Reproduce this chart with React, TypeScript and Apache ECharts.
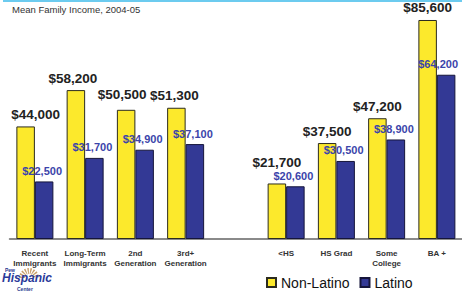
import React, { useEffect, useRef } from "react";
import * as echarts from "echarts";

const categories = [
  "Recent\nImmigrants",
  "Long-Term\nImmigrants",
  "2nd\nGeneration",
  "3rd+\nGeneration",
  "",
  "<HS",
  "HS Grad",
  "Some\nCollege",
  "BA +",
];
const nonLatino = [44000, 58200, 50500, 51300, null, 21700, 37500, 47200, 85600];
const latino = [22500, 31700, 34900, 37100, null, 20600, 30500, 38900, 64200];
const nonLatinoLabelShift = [10, -3, -4, -2, 0, 0, 0, 0, 0];
const nonLatinoLabelRaise = [0, 0, -3, 0, 0, -9, 0, 0, 0];
const latinoLabelShift = [-2, -2, -2, -2, 0, -2, -2, -2, -8];

const fmt = (v: number) => "$" + v.toLocaleString("en-US");

export default function App() {
  const ref = useRef<HTMLDivElement>(null);
  useEffect(() => {
    if (!ref.current) return;
    const chart = echarts.init(ref.current, null, { renderer: "svg" });
    const font = "Liberation Sans, Arial, sans-serif";
    chart.setOption({
      animation: false,
      backgroundColor: "#ffffff",
      textStyle: { fontFamily: font },
      title: {
        text: "Mean Family Income, 2004-05",
        left: 12,
        top: 4,
        padding: 0,
        textStyle: { fontSize: 9.5, fontWeight: "normal", color: "#333333", fontFamily: font },
      },
      legend: {
        left: 266,
        top: 275.5,
        itemWidth: 9,
        itemHeight: 9,
        itemGap: 10,
        icon: "rect",
        padding: 0,
        textStyle: { fontSize: 14, color: "#111111", fontFamily: font },
        data: ["Non-Latino", "Latino"],
      },
      grid: { left: 9.75, right: -2.25, top: 8.74, bottom: 55, containLabel: false },
      xAxis: {
        type: "category",
        data: categories,
        axisTick: { show: false },
        axisLine: { lineStyle: { color: "#8a8a8a", width: 2 } },
        axisLabel: {
          interval: 0,
          margin: 9,
          fontSize: 8,
          fontWeight: "bold",
          color: "#333333",
          lineHeight: 10.5,
          fontFamily: font,
        },
      },
      yAxis: { type: "value", min: 0, max: 90000, show: false, splitLine: { show: false } },
      series: [
        {
          name: "Non-Latino",
          type: "bar",
          barWidth: 18.5,
          barGap: "0%",
          itemStyle: { color: "#FCE92C", borderColor: "#2b2b1f", borderWidth: 1 },
          data: nonLatino.map((v, i) => ({
            value: v,
            label: { offset: [nonLatinoLabelShift[i], nonLatinoLabelRaise[i]] },
          })),
          label: {
            show: true,
            position: "top",
            fontSize: 13.5,
            fontWeight: "bold",
            color: "#222222",
            fontFamily: font,
            formatter: (p: any) => (p.value == null ? "" : fmt(p.value)),
          },
        },
        {
          name: "Latino",
          type: "bar",
          barWidth: 18.5,
          barGap: "0%",
          itemStyle: { color: "#333995", borderColor: "#15153a", borderWidth: 1 },
          data: latino.map((v, i) => ({
            value: v,
            label: { offset: [latinoLabelShift[i], 0] },
          })),
          label: {
            show: true,
            position: "top",
            fontSize: 11,
            fontWeight: "bold",
            color: "#3B44AA",
            fontFamily: font,
            formatter: (p: any) => (p.value == null ? "" : fmt(p.value)),
          },
        },
      ],
      graphic: [
        {
          type: "line",
          shape: { x1: 3, y1: 1, x2: 462, y2: 1 },
          style: { stroke: "#6CCBEF", lineWidth: 2 },
        },
        {
          type: "group",
          left: 2,
          top: 267,
          children: [
            {
              type: "arc",
              shape: { cx: 28, cy: 11, r: 7, startAngle: Math.PI, endAngle: 2 * Math.PI },
              style: { stroke: "#C9A06A", lineWidth: 6, lineDash: [1.2, 1.2], fill: "none" },
            },
            {
              type: "text",
              x: 4,
              y: 0,
              style: { text: "Pew", fontSize: 5, fontWeight: "bold", fill: "#2a3a8f", fontFamily: font },
            },
            {
              type: "text",
              x: 1,
              y: 5,
              style: {
                text: "Hispanic",
                fontSize: 12,
                fontWeight: "bold",
                fontStyle: "italic",
                fill: "#2a3a9a",
                fontFamily: font,
              },
            },
            {
              type: "text",
              x: 16,
              y: 19,
              style: { text: "Center", fontSize: 5, fontWeight: "bold", fill: "#2a3a8f", fontFamily: font },
            },
          ],
        },
      ],
    });
    return () => chart.dispose();
  }, []);
  return (
    <div
      ref={ref}
      style={{ position: "fixed", left: 0, top: 0, width: 462, height: 294 }}
    />
  );
}
